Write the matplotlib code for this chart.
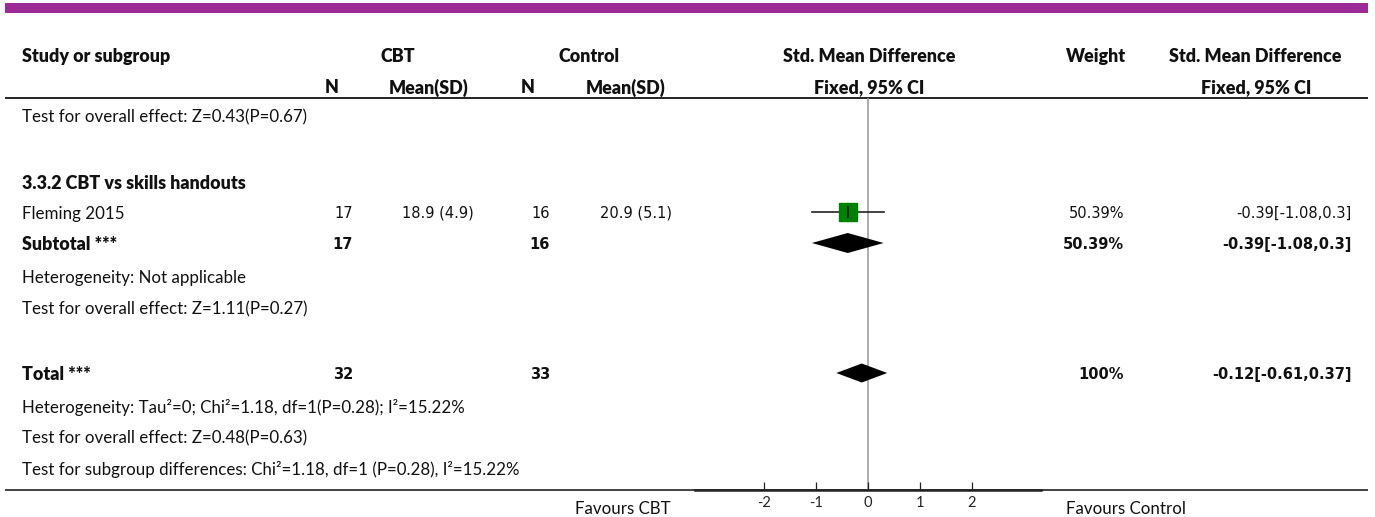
import matplotlib
matplotlib.use("Agg")
import matplotlib.pyplot as plt
from matplotlib.patches import Polygon, Rectangle

# ---- data -------------------------------------------------------------
study_names = ["Fleming 2015"]
cbt_n = [17]
cbt_mean = [18.9]
cbt_sd = [4.9]
ctrl_n = [16]
ctrl_mean = [20.9]
ctrl_sd = [5.1]
study_smd = [-0.39]
study_lo = [-1.08]
study_hi = [0.3]
study_weight = [50.39]

subtotal_n = (17, 16)
subtotal_smd, subtotal_lo, subtotal_hi = -0.39, -1.08, 0.3
subtotal_weight = 50.39

total_n = (32, 33)
total_smd, total_lo, total_hi = -0.12, -0.61, 0.37
total_weight = 100

axis_ticks = [-2, -1, 0, 1, 2]
axis_limit = 3.33

prev_overall = "Test for overall effect: Z=0.43(P=0.67)"
subgroup_title = "3.3.2 CBT vs skills handouts"
sub_het = "Heterogeneity: Not applicable"
sub_overall = "Test for overall effect: Z=1.11(P=0.27)"
tot_het = "Heterogeneity: Tau\u00b2=0; Chi\u00b2=1.18, df=1(P=0.28); I\u00b2=15.22%"
tot_overall = "Test for overall effect: Z=0.48(P=0.63)"
tot_subgroup = "Test for subgroup differences: Chi\u00b2=1.18, df=1 (P=0.28), I\u00b2=15.22%"

# ---- layout -----------------------------------------------------------
W, H = 1375, 517
LABEL_FONT = ["Lato", "DejaVu Sans"]
NUM_FONT = ["DejaVu Sans"]
LFS = 12.2
BFS = 12.9
NFS = 10.5
PURPLE = "#9c2a97"
GREEN = "#008000"

fig = plt.figure(figsize=(W / 100, H / 100), dpi=100)
base = fig.add_axes([0, 0, 1, 1])
base.set_xlim(0, W)
base.set_ylim(H, 0)
base.axis("off")


def label(x, y, s, ha="left", bold=False):
    base.text(x, y, s, ha=ha, va="center_baseline",
              fontsize=BFS if bold else LFS,
              family=LABEL_FONT, fontweight="heavy" if bold else "normal",
              color="#111111")


def number(x, y, s, bold=False):
    base.text(x, y, s, ha="right", va="center_baseline", fontsize=NFS,
              family=NUM_FONT, fontweight="bold" if bold else "normal",
              color="#111111")


# purple banner
base.add_patch(Rectangle((5, 3), 1363, 10, color=PURPLE, lw=0))

# header
label(22, 55, "Study or subgroup", bold=True)
label(398, 55, "CBT", ha="center", bold=True)
label(589, 55, "Control", ha="center", bold=True)
label(869, 55, "Std. Mean Difference", ha="center", bold=True)
label(1096, 55, "Weight", ha="center", bold=True)
label(1255, 55, "Std. Mean Difference", ha="center", bold=True)
label(332, 86, "N", ha="center", bold=True)
label(429, 86, "Mean(SD)", ha="center", bold=True)
label(528, 86, "N", ha="center", bold=True)
label(626, 86, "Mean(SD)", ha="center", bold=True)
label(869, 86, "Fixed, 95% CI", ha="center", bold=True)
label(1256, 86, "Fixed, 95% CI", ha="center", bold=True)
base.plot([5, 1368], [98, 98], color="#222222", lw=1.4, solid_capstyle="butt")

# body text
label(22, 116, prev_overall)
label(22, 182, subgroup_title, bold=True)

study_rows = [212]
for i, y in enumerate(study_rows):
    label(22, y, study_names[i])
    number(353, y, f"{cbt_n[i]}")
    number(474, y, f"{cbt_mean[i]} ({cbt_sd[i]})")
    number(550, y, f"{ctrl_n[i]}")
    number(672, y, f"{ctrl_mean[i]} ({ctrl_sd[i]})")
    number(1124, y, f"{study_weight[i]}%")
    number(1352, y, f"{study_smd[i]}[{study_lo[i]},{study_hi[i]}]")

y_sub = 243
label(22, y_sub, "Subtotal ***", bold=True)
number(353, y_sub, f"{subtotal_n[0]}", bold=True)
number(550, y_sub, f"{subtotal_n[1]}", bold=True)
number(1124, y_sub, f"{subtotal_weight}%", bold=True)
number(1352, y_sub, f"{subtotal_smd}[{subtotal_lo},{subtotal_hi}]", bold=True)
label(22, 277, sub_het)
label(22, 308, sub_overall)

y_tot = 373
label(22, y_tot, "Total ***", bold=True)
number(353, y_tot, f"{total_n[0]}", bold=True)
number(550, y_tot, f"{total_n[1]}", bold=True)
number(1124, y_tot, f"{total_weight}%", bold=True)
number(1352, y_tot, f"{total_smd}[{total_lo},{total_hi}]", bold=True)
label(22, 406, tot_het)
label(22, 437, tot_overall)
label(22, 468, tot_subgroup)

# bottom rule and favours labels
base.plot([5, 1368], [490, 490], color="#222222", lw=1.2, solid_capstyle="butt")
label(623, 507, "Favours CBT", ha="center")
label(1066, 507, "Favours Control")

# ---- forest panel ---------------------------------------------------------
px_left, px_right = 695, 1041
y_top, y_bot = 98, 490
fx = fig.add_axes([px_left / W, 1 - y_bot / H, (px_right - px_left) / W,
                   (y_bot - y_top) / H])
fx.set_xlim(-axis_limit, axis_limit)
fx.set_ylim(y_bot, y_top)
fx.patch.set_alpha(0)
for side in ("top", "right", "left"):
    fx.spines[side].set_visible(False)
fx.spines["bottom"].set_linewidth(1.8)
fx.spines["bottom"].set_color("#222222")
fx.set_yticks([])
fx.set_xticks(axis_ticks)
fx.set_xticklabels([str(t) for t in axis_ticks])
fx.tick_params(axis="x", direction="in", length=6, width=0.9, pad=4,
               colors="#222222", labelsize=10.5, labelfontfamily="Lato")

fx.axvline(0, color="#999999", lw=1.1, zorder=1)

for i, y in enumerate(study_rows):
    fx.plot([study_lo[i], study_hi[i]], [y, y], color="#222222", lw=1.2, zorder=2)
    fx.plot(study_smd[i], y, marker="s", ms=12.5, color=GREEN, mec=GREEN, zorder=3)
    fx.plot(study_smd[i], y, marker="|", ms=8, mew=1.1, color="#111111", zorder=4)


def diamond(smd, lo, hi, y, half_h):
    fx.add_patch(Polygon([(lo, y), (smd, y - half_h), (hi, y), (smd, y + half_h)],
                         closed=True, color="black", lw=0, zorder=3))


diamond(subtotal_smd, subtotal_lo, subtotal_hi, y_sub, 10)
diamond(total_smd, total_lo, total_hi, y_tot, 9.5)

fig.savefig("out.png", dpi=100)
